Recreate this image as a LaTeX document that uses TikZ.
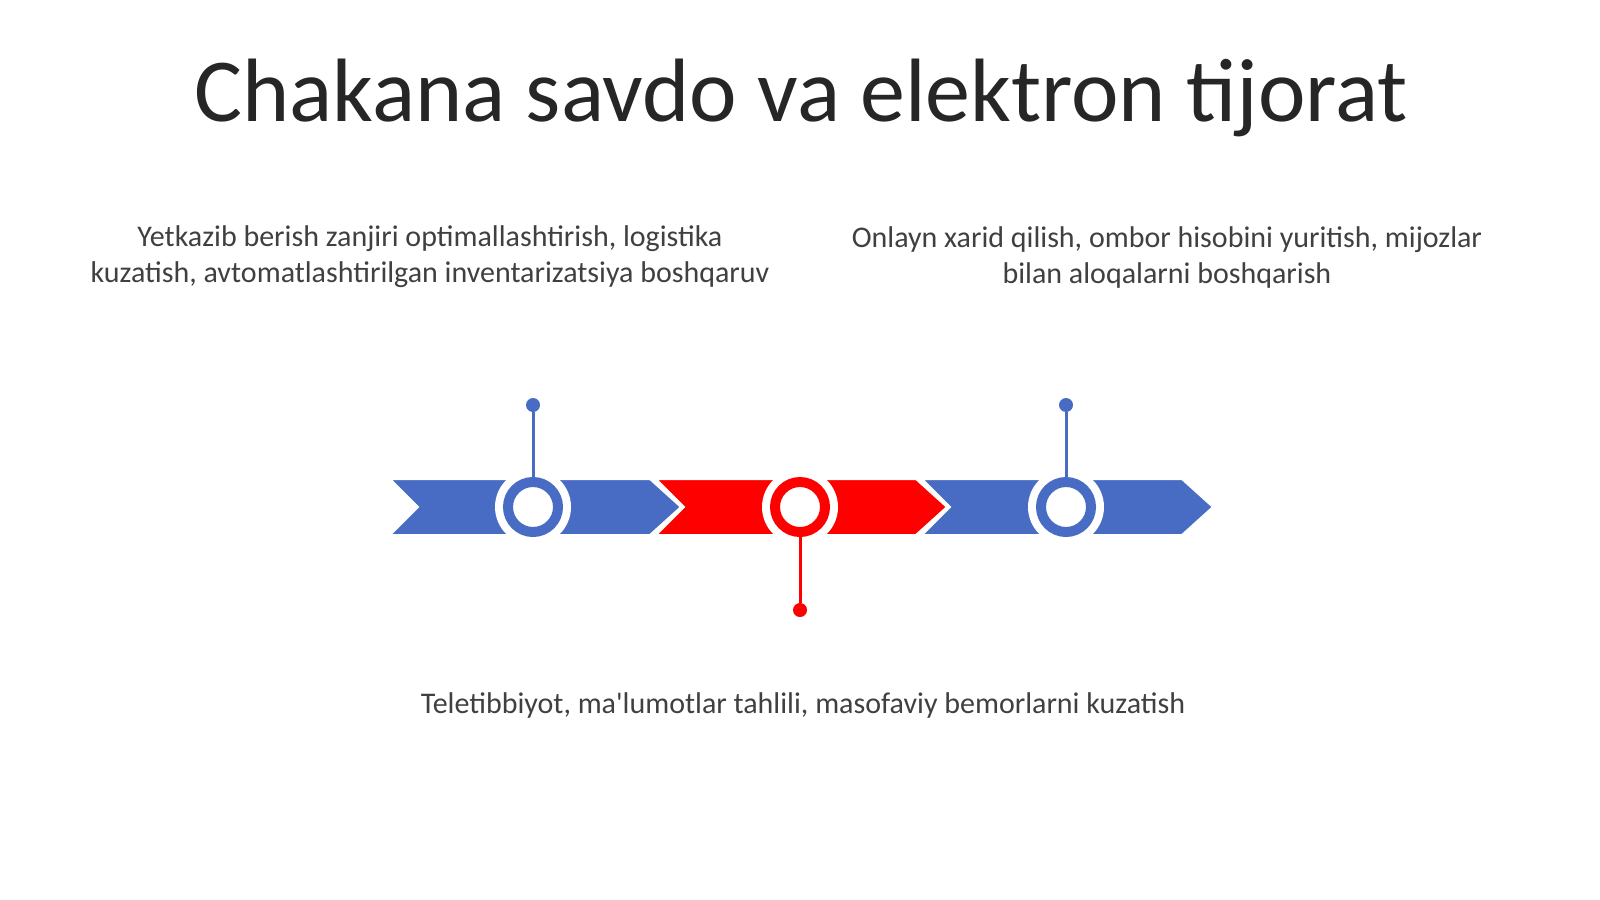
\documentclass[tikz,border=0pt]{standalone}
\usepackage{fontspec}
\setmainfont{Carlito}
\definecolor{cblue}{RGB}{72,108,196}
\definecolor{cred}{RGB}{255,0,0}
\definecolor{titlecol}{RGB}{38,38,38}
\definecolor{bodycol}{RGB}{64,64,64}
\begin{document}
\begin{tikzpicture}[x=1pt,y=-1pt,
  chev/.style={draw=white,line width=2pt,line join=miter},
  halo/.style={circle,fill=white,minimum size=76pt,inner sep=0pt},
  ring/.style={circle,draw=#1,line width=10pt,fill=white,minimum size=50pt,inner sep=0pt},
  dotnode/.style={circle,fill=#1,minimum size=14pt,inner sep=0pt},
  stem/.style={draw=#1,line width=3pt},
  body/.style={font=\fontsize{30}{36}\selectfont,text=bodycol,align=center}]
\useasboundingbox[fill=white] (0,0) rectangle (1600,899);
\node[font=\fontsize{90}{100}\selectfont,text=titlecol] (title) at (801,98) {Chakana savdo va elektron tijorat};
\node[body] (t1) at (430,257) {Yetkazib berish zanjiri optimallashtirish, logistika\\kuzatish, avtomatlashtirilgan inventarizatsiya boshqaruv};
\node[body] (t2) at (1167,257) {Onlayn xarid qilish, ombor hisobini yuritish, mijozlar\\bilan aloqalarni boshqarish};
\node[body] (t3) at (803,705) {Teletibbiyot, ma\textquotesingle lumotlar tahlili, masofaviy bemorlarni kuzatish};
% chevrons
\foreach \L/\c in {390/cblue,656/cred,922/cblue}{
  \filldraw[chev,fill=\c] (\L,479) -- (\L+260,479) -- (\L+291,507) -- (\L+260,535) -- (\L,535) -- (\L+28,507) -- cycle;
}
% circles
\node[halo] (h1) at (533,507) {};
\node[halo] (h2) at (800,507) {};
\node[halo] (h3) at (1066,507) {};
\node[ring=cblue] (c1) at (533,507) {};
\node[ring=cred] (c2) at (800,507) {};
\node[ring=cblue] (c3) at (1066,507) {};
\node[dotnode=cblue] (d1) at (533,405) {};
\node[dotnode=cred] (d2) at (800,610) {};
\node[dotnode=cblue] (d3) at (1066,405) {};
\draw[stem=cblue] (d1) -- (c1);
\draw[stem=cred] (c2) -- (d2);
\draw[stem=cblue] (d3) -- (c3);
\end{tikzpicture}
\end{document}
